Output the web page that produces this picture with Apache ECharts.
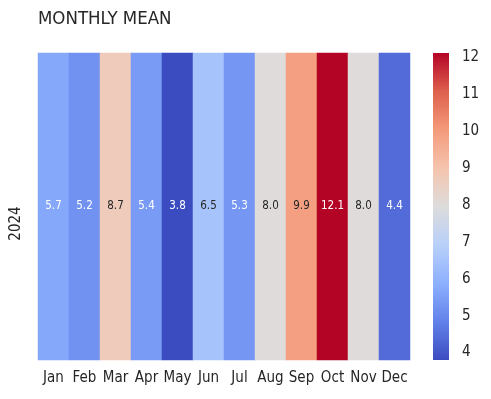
<!DOCTYPE html>
<html>
<head>
<meta charset="utf-8">
<script src="https://cdn.jsdelivr.net/npm/echarts@6/dist/echarts.min.js"></script>
<style>
    html, body {margin: 0; padding: 0; background: #fff;}
    #chart {width: 491px; height: 399px;}
</style>
</head>
<body>
<div id="chart"></div>
<script>
// 数据
var months = ['Jan', 'Feb', 'Mar', 'Apr', 'May', 'Jun', 'Jul', 'Aug', 'Sep', 'Oct', 'Nov', 'Dec'];
var years = ['2024'];
var values = [5.7, 5.2, 8.7, 5.4, 3.8, 6.5, 5.3, 8.0, 9.9, 12.1, 8.0, 4.4];
var barTicks = [4, 5, 6, 7, 8, 9, 10, 11, 12];

// coolwarm 色带
var coolwarm = ['#3b4cc0', '#6282ea', '#8db0fe', '#b8d0f9', '#dddcdc', '#f5c4ad', '#f49a7b', '#de604d', '#b40426'];

var vmin = Math.min.apply(null, values);
var vmax = Math.max.apply(null, values);

function hexRgb(h) {
    return [parseInt(h.substr(1, 2), 16), parseInt(h.substr(3, 2), 16), parseInt(h.substr(5, 2), 16)];
}

// 按数值取颜色，再按亮度决定文字颜色
function colorAt(v) {
    var t = (v - vmin) / (vmax - vmin) * (coolwarm.length - 1);
    var i = Math.min(Math.floor(t), coolwarm.length - 2);
    var f = t - i;
    var a = hexRgb(coolwarm[i]), b = hexRgb(coolwarm[i + 1]);
    return [0, 1, 2].map(function (k) { return a[k] + (b[k] - a[k]) * f; });
}
function textColor(v) {
    var c = colorAt(v).map(function (x) {
        x = x / 255;
        return x <= 0.03928 ? x / 12.92 : Math.pow((x + 0.055) / 1.055, 2.4);
    });
    var lum = 0.2126 * c[0] + 0.7152 * c[1] + 0.0722 * c[2];
    return lum < 0.408 ? '#ffffff' : '#262626';
}

var data = [];
for (var i = 0; i < values.length; i++) {
    data.push({
        value: [i, 0, values[i]],
        label: {color: textColor(values[i])}
    });
}

var stops = coolwarm.map(function (c, i) {
    return {offset: i / (coolwarm.length - 1), color: c};
});

var font = '"DejaVu Sans Condensed", "DejaVu Sans"';
var mychart = echarts.init(document.getElementById('chart'));
var option = {
    animation: false,
    title: {
        text: 'MONTHLY MEAN',
        left: 33,
        top: 5,
        textStyle: {fontFamily: font, fontSize: 18.5, fontWeight: 'normal', color: '#262626'}
    },
    grid: [
        {left: 38, top: 53, width: 372, height: 307},
        {left: 433, top: 53, width: 16, height: 307}
    ],
    xAxis: [
        {
            type: 'category',
            data: months,
            gridIndex: 0,
            axisLine: {show: false},
            axisTick: {show: false},
            axisLabel: {fontFamily: font, fontSize: 15, color: '#262626', margin: 11, interval: 0},
            splitLine: {show: false}
        },
        {type: 'value', gridIndex: 1, show: false, min: 0, max: 1}
    ],
    yAxis: [
        {
            type: 'category',
            data: years,
            gridIndex: 0,
            axisLine: {show: false},
            axisTick: {show: false},
            axisLabel: {
                fontFamily: font, fontSize: 15, color: '#262626', rotate: 90, margin: 14,
                align: 'center', padding: [0, 34, 0, 0]
            },
            splitLine: {show: false}
        },
        {
            type: 'value',
            gridIndex: 1,
            position: 'right',
            min: vmin,
            max: vmax,
            axisLine: {show: false},
            axisTick: {show: true, length: 6, customValues: barTicks, lineStyle: {color: '#262626', width: 1}},
            axisLabel: {fontFamily: font, fontSize: 15, color: '#262626', margin: 13, customValues: barTicks},
            splitLine: {show: false}
        }
    ],
    visualMap: {
        show: false,
        type: 'continuous',
        min: vmin,
        max: vmax,
        seriesIndex: 0,
        inRange: {color: coolwarm}
    },
    series: [
        {
            type: 'heatmap',
            xAxisIndex: 0,
            yAxisIndex: 0,
            data: data,
            label: {
                show: true,
                fontFamily: font,
                fontSize: 11.5,
                formatter: function (p) { return p.value[2].toFixed(1); }
            },
            emphasis: {disabled: true}
        },
        {
            // 色条
            type: 'custom',
            xAxisIndex: 1,
            yAxisIndex: 1,
            data: [[0, vmin]],
            silent: true,
            renderItem: function (params, api) {
                var cs = params.coordSys;
                return {
                    type: 'rect',
                    shape: {x: cs.x, y: cs.y, width: cs.width, height: cs.height},
                    style: {fill: new echarts.graphic.LinearGradient(0, 1, 0, 0, stops)}
                };
            }
        }
    ]
};
mychart.setOption(option);
</script>
</body>
</html>
